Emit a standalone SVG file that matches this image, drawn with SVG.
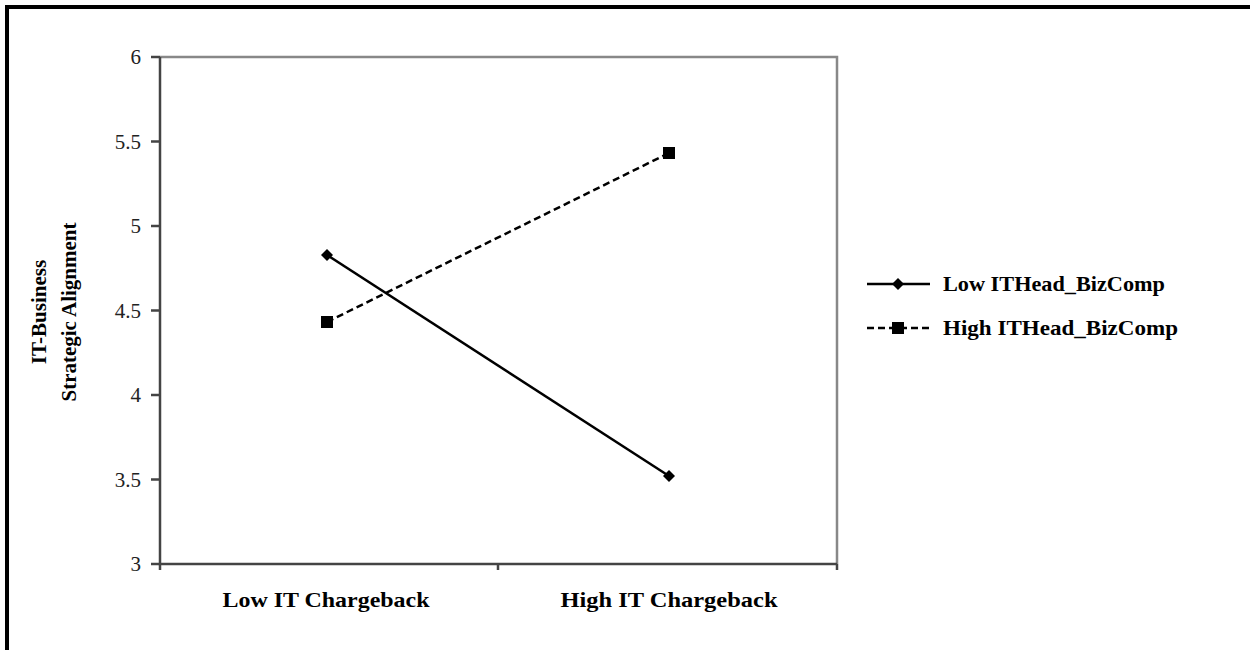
<svg xmlns="http://www.w3.org/2000/svg" width="1250" height="650" viewBox="0 0 1250 650">
<defs>
<style>
.tick{font-family:"Liberation Serif",serif;font-size:21px;fill:#222;text-anchor:end}
.cat{font-family:"Liberation Serif",serif;font-size:22px;font-weight:bold;fill:#000;text-anchor:middle}
.leg{font-family:"Liberation Serif",serif;font-size:21px;font-weight:bold;fill:#000}
.ttl{font-family:"Liberation Serif",serif;font-size:21px;font-weight:bold;fill:#000;text-anchor:middle}
.axis{stroke:#444;stroke-width:2.5;fill:none}
.frame{stroke:#888;stroke-width:2.5;fill:none}
.solid{stroke:#000;stroke-width:2.5;fill:none}
.dash{stroke:#000;stroke-width:2.5;fill:none;stroke-dasharray:7,4}
</style>
<path id="dia" d="M0,-6 L6,0 L0,6 L-6,0 Z" fill="#000"/>
<rect id="sq" x="-6" y="-6" width="12" height="12" fill="#000"/>
</defs>
<rect width="1250" height="650" fill="#fff"/>
<g id="border">
<path d="M7,650 L7,7 L1250,7" stroke="#000" stroke-width="4" fill="none"/>
</g>
<g id="plot">
<path class="frame" d="M160,57 L837,57 L837,564"/>
<path class="axis" d="M160,57 L160,564 L837,564"/>
<path class="axis" d="M151,57 H160 M151,141.5 H160 M151,226 H160 M151,310.5 H160 M151,395 H160 M151,479.5 H160 M151,564 H160 M160,564 V570 M498,564 V570 M837,564 V570"/>
<text class="tick" x="141" y="64">6</text>
<text class="tick" x="141" y="148.5">5.5</text>
<text class="tick" x="141" y="233">5</text>
<text class="tick" x="141" y="317.5">4.5</text>
<text class="tick" x="141" y="402">4</text>
<text class="tick" x="141" y="486.5">3.5</text>
<text class="tick" x="141" y="571">3</text>
<text class="cat" x="326" y="607" textLength="207" lengthAdjust="spacingAndGlyphs">Low IT Chargeback</text>
<text class="cat" x="669" y="607" textLength="217" lengthAdjust="spacingAndGlyphs">High IT Chargeback</text>
<text class="ttl" transform="translate(46,312) rotate(-90)">IT-Business</text>
<text class="ttl" transform="translate(76,312) rotate(-90)">Strategic Alignment</text>
</g>
<g id="connectors">
<path class="solid" d="M327,255 L669,476"/>
<path class="dash" d="M327,322 L669,153"/>
</g>
<g id="low-series">
<use href="#dia" x="327" y="255"/>
<use href="#dia" x="669" y="476"/>
</g>
<g id="high-series">
<use href="#sq" x="327" y="322"/>
<use href="#sq" x="669" y="153"/>
</g>
<g id="legend">
<path class="solid" d="M867,284 H930"/>
<use href="#dia" x="898" y="284"/>
<text class="leg" x="943" y="291" textLength="222" lengthAdjust="spacingAndGlyphs">Low ITHead_BizComp</text>
<path class="dash" d="M867,328 H930" stroke-dasharray="6,4"/>
<use href="#sq" x="898" y="328"/>
<text class="leg" x="943" y="335" textLength="235" lengthAdjust="spacingAndGlyphs">High ITHead_BizComp</text>
</g>
</svg>
